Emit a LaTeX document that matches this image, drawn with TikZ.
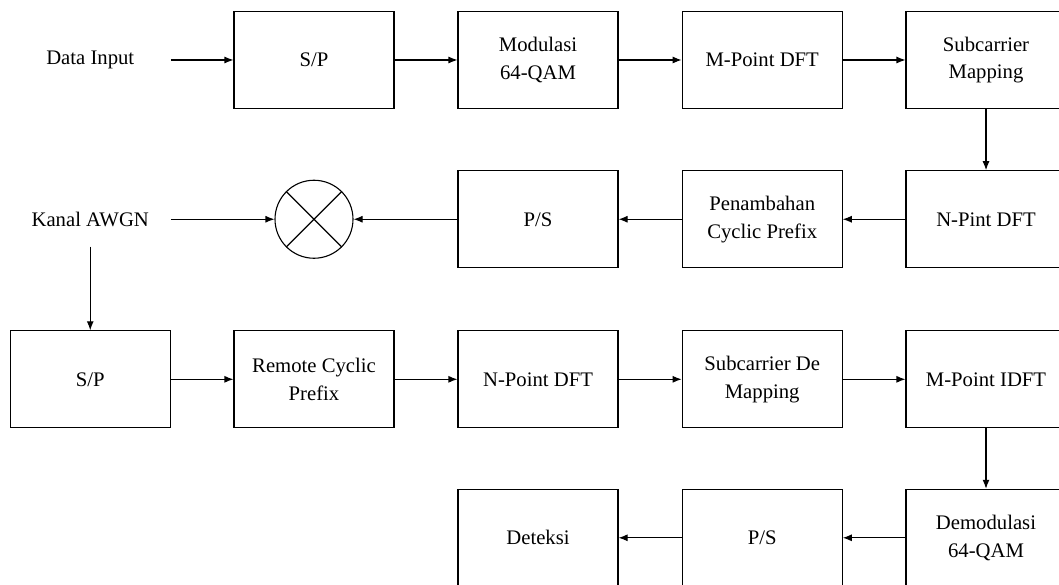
\documentclass[tikz,border=0pt]{standalone}
\usepackage{fontspec}
\setmainfont{Liberation Serif}
\usetikzlibrary{arrows.meta}
\begin{document}
\begin{tikzpicture}[x=1pt,y=-1pt,
  line width=1.1pt,
  font=\fontsize{20.7}{27.7}\selectfont,
  blok/.style={draw, rectangle, minimum width=160pt, minimum height=97pt,
    inner sep=0pt, align=center},
  label/.style={rectangle, minimum width=160pt, minimum height=97pt,
    inner sep=0pt, align=center},
  mixer/.style={draw, circle, minimum size=78pt, inner sep=0pt},
  flow/.style={-{Latex[length=9pt,width=7pt]}}]
\useasboundingbox (0,0) rectangle (1059,585);
\clip (0,0) rectangle (1059,585);

% Transmitter chain
\node[label] (din)  at (90.25,60) {Data Input};
\node[blok]  (sp1)  at (314,60)   {S/P};
\node[blok]  (mod)  at (538,60)   {Modulasi\\64-QAM};
\node[blok]  (mdft) at (762.2,60) {M-Point DFT};
\node[blok]  (scm)  at (986,60)   {Subcarrier\\Mapping};

% Cyclic prefix and channel
\node[label] (awgn) at (90.25,219.25) {Kanal AWGN};
\node[mixer] (mix)  at (314,219.25) {};
\draw (mix.45) -- (mix.225) (mix.135) -- (mix.315);
\node[blok]  (ps1)  at (538,219.25)   {P/S};
\node[blok]  (cp)   at (762.2,219.25) {Penambahan\\Cyclic Prefix};
\node[blok]  (ndft) at (986,219.25)   {N-Pint DFT};
\coordinate (awgnout) at (90.25,246.6);

% Receiver chain
\node[blok]  (sp2)   at (90.25,379.3) {S/P};
\node[blok]  (rcp)   at (314,379.3)   {Remote Cyclic\\Prefix};
\node[blok]  (ndft2) at (538,379.3)   {N-Point DFT};
\node[blok]  (scdm)  at (762.2,379.3) {Subcarrier De\\Mapping};
\node[blok]  (midft) at (986,379.3)   {M-Point IDFT};

\node[blok]  (det)   at (538,537.8)   {Deteksi};
\node[blok]  (ps2)   at (762.2,537.8) {P/S};
\node[blok]  (demod) at (986,537.8)   {Demodulasi\\64-QAM};

% Connectors
\draw[flow] (din.east) -- (sp1.west);
\draw[flow] (sp1.east) -- (mod.west);
\draw[flow] (mod.east) -- (mdft.west);
\draw[flow] (mdft.east) -- (scm.west);
\draw[flow] (scm.south) -- (ndft.north);
\draw[flow] (ndft.west) -- (cp.east);
\draw[flow] (cp.west) -- (ps1.east);
\draw[flow] (ps1.west) -- (mix.east);
\draw[flow] (awgn.east) -- (mix.west);
\draw[flow] (awgnout) -- (sp2.north);
\draw[flow] (sp2.east) -- (rcp.west);
\draw[flow] (rcp.east) -- (ndft2.west);
\draw[flow] (ndft2.east) -- (scdm.west);
\draw[flow] (scdm.east) -- (midft.west);
\draw[flow] (midft.south) -- (demod.north);
\draw[flow] (demod.west) -- (ps2.east);
\draw[flow] (ps2.west) -- (det.east);
\end{tikzpicture}
\end{document}
